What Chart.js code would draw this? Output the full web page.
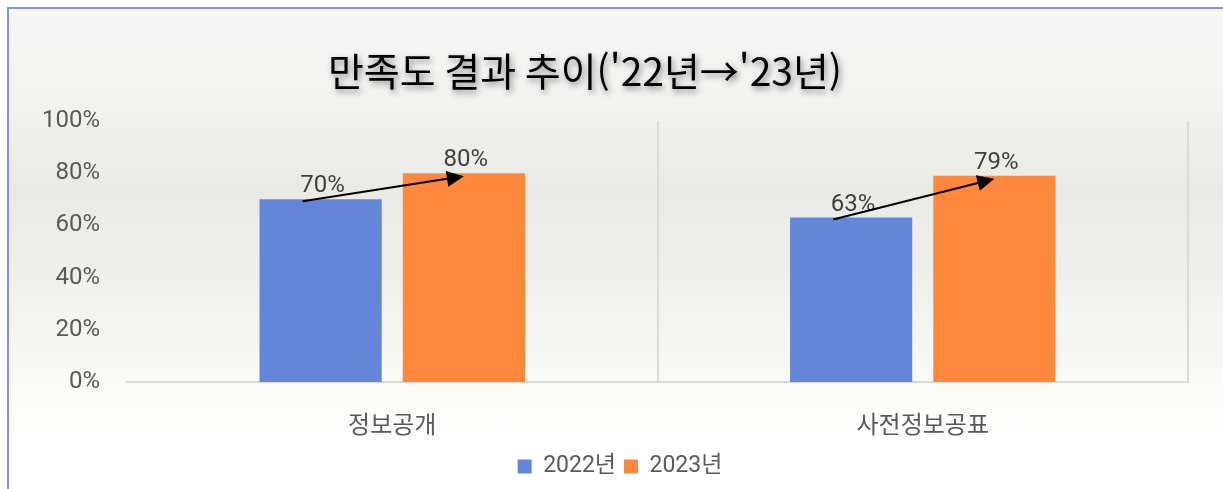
<!DOCTYPE html>
<html lang="ko">
<head>
<meta charset="UTF-8">
<title>만족도 결과 추이</title>
<style>
  html, body { margin: 0; padding: 0; width: 1223px; height: 489px; overflow: hidden; background: #fff; }
  #frame {
    position: absolute; left: 7px; top: 7px; width: 1216px; height: 482px;
    border-top: 2px solid #7898e4; border-left: 2px solid #7898e4;
    background: linear-gradient(to bottom, #f6f6f6 0px, #f2f2f0 90px, #e9e9e5 180px, #eeeeea 260px, #f5f5f1 330px, #fafaf6 380px, #fdfdfb 400px, #ffffff 430px);
  }
  #wrap { position: absolute; left: 0; top: 0; width: 1223px; height: 488px; }
</style>
</head>
<body>
<div id="frame"></div>
<div id="wrap"><canvas id="myChart"></canvas></div>
<script src="https://cdn.jsdelivr.net/npm/chart.js"></script>
<script>
  const titleText = "만족도 결과 추이('22년→'23년)";
  const categories = ['정보공개', '사전정보공표'];
  const seriesNames = ['2022년', '2023년'];
  const values2022 = [70, 63];
  const values2023 = [80, 79];
  const yTicks = [0, 20, 40, 60, 80, 100];

  const fontFamily = "Roboto, 'Noto Sans CJK KR', sans-serif";

  // 제목 (그림자 포함, 조금 왼쪽으로 치우침)
  const titlePlugin = {
    id: 'titleShadow',
    afterLayout(chart) {
      // 범례를 조금 오른쪽으로
      chart.legend.left += 6;
      chart.legend.right += 6;
    },
    afterDraw(chart) {
      const c = chart.ctx;
      c.save();
      c.font = "39px 'Noto Sans CJK KR'";
      c.textAlign = 'center';
      c.textBaseline = 'middle';
      c.fillStyle = '#000';
      c.shadowColor = 'rgba(0,0,0,0.45)';
      c.shadowBlur = 6;
      c.shadowOffsetX = 2;
      c.shadowOffsetY = 3;
      c.fillText(titleText, 585, 71);
      c.restore();
    }
  };

  // 막대 위 값 + 화살표
  const labelPlugin = {
    id: 'valueLabels',
    afterDatasetsDraw(chart) {
      const c = chart.ctx;
      c.save();
      c.font = '24px ' + fontFamily;
      c.fillStyle = '#404040';
      c.textAlign = 'center';
      c.textBaseline = 'alphabetic';
      chart.data.datasets.forEach((ds, i) => {
        chart.getDatasetMeta(i).data.forEach((bar, j) => {
          c.fillText(ds.data[j] + '%', bar.x + 2, bar.y - 7);
        });
      });
      const a = chart.getDatasetMeta(0).data;
      const b = chart.getDatasetMeta(1).data;
      a.forEach((bar, j) => {
        const x1 = bar.x - 18, y1 = bar.y + 2;
        const x2 = b[j].x, y2 = b[j].y + 3;
        const ang = Math.atan2(y2 - y1, x2 - x1);
        const len = 17, half = 8;
        const bx = x2 - len * Math.cos(ang), by = y2 - len * Math.sin(ang);
        c.strokeStyle = '#000';
        c.lineWidth = 2;
        c.beginPath();
        c.moveTo(x1, y1);
        c.lineTo(bx, by);
        c.stroke();
        c.fillStyle = '#000';
        c.beginPath();
        c.moveTo(x2, y2);
        c.lineTo(bx + half * Math.sin(ang), by - half * Math.cos(ang));
        c.lineTo(bx - half * Math.sin(ang), by + half * Math.cos(ang));
        c.closePath();
        c.fill();
      });
      c.restore();
    }
  };

  const data = {
    labels: categories,
    datasets: [{
      label: seriesNames[0],
      data: values2022,
      backgroundColor: '#6486d9',
      categoryPercentage: 0.54,
      barPercentage: 0.853
    }, {
      label: seriesNames[1],
      data: values2023,
      backgroundColor: '#ff883d',
      categoryPercentage: 0.54,
      barPercentage: 0.853
    }]
  };

  new Chart(document.getElementById('myChart'), {
    type: 'bar',
    data: data,
    plugins: [titlePlugin, labelPlugin],
    options: {
      responsive: true,
      maintainAspectRatio: false,
      animation: false,
      layout: { padding: { left: 40, right: 35, top: 121, bottom: 0 } },
      plugins: {
        title: { display: false },
        tooltip: { enabled: false },
        legend: {
          position: 'bottom',
          labels: {
            boxWidth: 14, boxHeight: 14, padding: 8,
            color: '#595959',
            font: { size: 23, family: fontFamily }
          }
        }
      },
      scales: {
        x: {
          afterFit: axis => { axis.height = 65; },
          grid: {
            offset: true,
            drawTicks: false,
            color: ctx => ctx.index === 0 ? 'rgba(0,0,0,0)' : '#d9d9d9',
            lineWidth: 2
          },
          border: { display: true, color: '#d9d9d9', width: 2 },
          ticks: { padding: 31, color: '#595959', font: { size: 24, family: fontFamily } }
        },
        y: {
          min: 0,
          max: 100,
          afterFit: axis => { axis.width = 87; },
          afterBuildTicks: axis => { axis.ticks = yTicks.map(v => ({ value: v })); },
          grid: { display: false, drawTicks: false },
          border: { display: false },
          ticks: {
            padding: 27,
            color: '#595959',
            font: { size: 24, family: fontFamily },
            callback: v => v + '%'
          }
        }
      }
    }
  });
</script>
</body>
</html>
